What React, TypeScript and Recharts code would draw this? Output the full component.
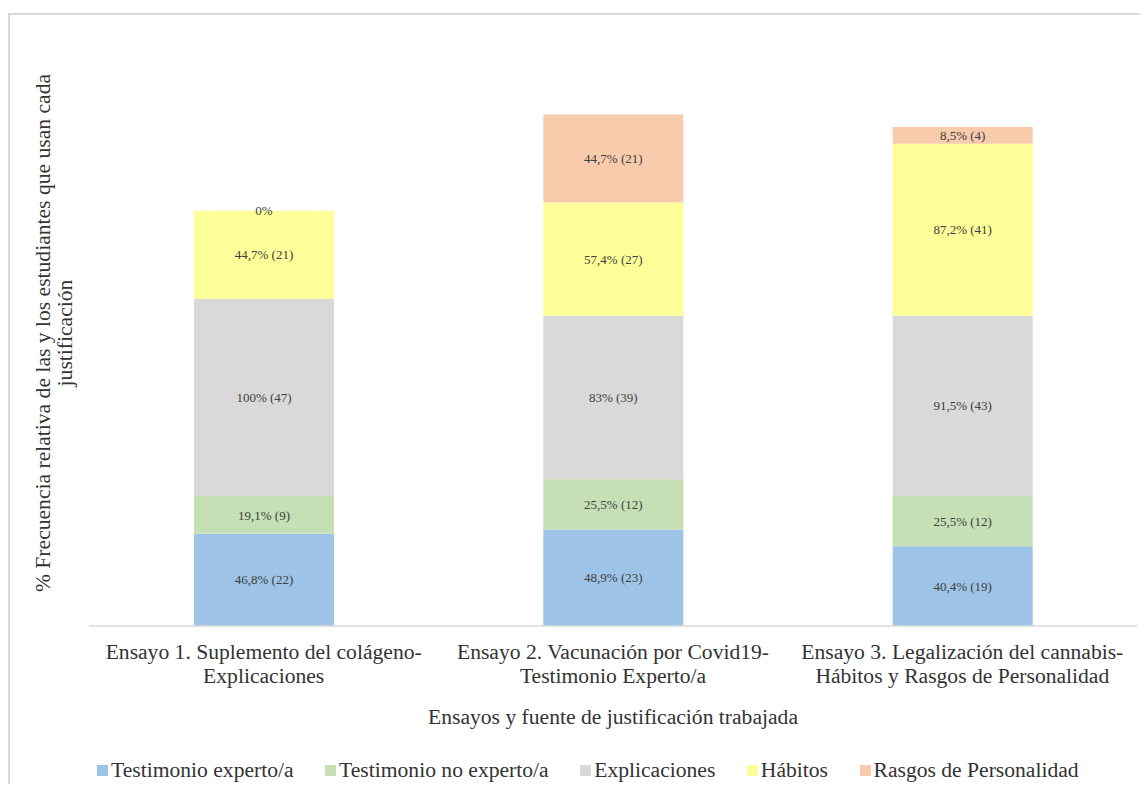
import React from "react";
import { BarChart, Bar, XAxis, YAxis, LabelList, Label } from "recharts";

// Essay categories (two lines each under the axis)
const categoryLine1 = [
  "Ensayo 1. Suplemento del colágeno-",
  "Ensayo 2. Vacunación por Covid19-",
  "Ensayo 3. Legalización del cannabis-",
];
const categoryLine2 = [
  "Explicaciones",
  "Testimonio Experto/a",
  "Hábitos y Rasgos de Personalidad",
];

// Series names and colours (bottom to top in the stack)
const seriesNames = [
  "Testimonio experto/a",
  "Testimonio no experto/a",
  "Explicaciones",
  "Hábitos",
  "Rasgos de Personalidad",
];
const seriesColors = ["#9DC3E6", "#C5E0B4", "#D9D9D9", "#FFFF99", "#F8CBAD"];

// Percentage of students per justification, per essay
const testimonioExperto = [46.8, 48.9, 40.4];
const testimonioNoExperto = [19.1, 25.5, 25.5];
const explicaciones = [100, 83, 91.5];
const habitos = [44.7, 57.4, 87.2];
const rasgos = [0, 44.7, 8.5];

// Number of students behind each percentage
const nTestimonioExperto = [22, 23, 19];
const nTestimonioNoExperto = [9, 12, 12];
const nExplicaciones = [47, 39, 43];
const nHabitos = [21, 27, 41];
const nRasgos = [0, 21, 4];

const seriesValues = [testimonioExperto, testimonioNoExperto, explicaciones, habitos, rasgos];
const seriesCounts = [nTestimonioExperto, nTestimonioNoExperto, nExplicaciones, nHabitos, nRasgos];

const FONT = "Times New Roman, Liberation Serif, DejaVu Serif, serif";
const TEXT = "#333333";
const GRID = "#D9D9D9";

const fmt = (v: number, n: number) =>
  v === 0 ? "0%" : `${String(v).replace(".", ",")}% (${n})`;

const data = categoryLine1.map((l1, i) => {
  const row: Record<string, string | number> = { name: `${l1}\n${categoryLine2[i]}` };
  seriesValues.forEach((vals, s) => {
    row[`s${s}`] = vals[i];
    row[`l${s}`] = fmt(vals[i], seriesCounts[s][i]);
  });
  return row;
});

const TOP = seriesNames.length - 1;

// Segment label centred in its rect; the segment under the top one also
// prints the top segment's label when that segment has zero height.
const makeSegmentLabel = (s: number) => (props: any) => {
  const { viewBox, value, index } = props;
  if (!viewBox) return null;
  const { x, y, width, height } = viewBox;
  const cx = x + width / 2;
  const common = {
    textAnchor: "middle" as const,
    fill: "#404040",
    fontSize: 13,
    fontFamily: FONT,
  };
  const extra =
    s === TOP - 1 && seriesValues[TOP][index] === 0 ? (
      <text x={cx} y={y + 4.6} {...common}>
        {fmt(0, seriesCounts[TOP][index])}
      </text>
    ) : null;
  return (
    <g key={`lab-${s}-${index}`}>
      {height > 0 && (
        <text x={cx} y={y + height / 2 + 4.6} {...common}>
          {value}
        </text>
      )}
      {extra}
    </g>
  );
};

const CategoryTick = (props: any) => {
  const { x, y, payload } = props;
  const lines = String(payload.value).split("\n");
  return (
    <g>
      {lines.map((line: string, i: number) => (
        <text
          key={i}
          x={x}
          y={y + 33.3 + i * 24}
          textAnchor="middle"
          fill={TEXT}
          fontSize={21.6}
          fontFamily={FONT}
        >
          {line}
        </text>
      ))}
    </g>
  );
};

const XTitle = (props: any) => {
  const vb = props.viewBox || { x: 81, y: 618, width: 1048 };
  return (
    <text
      x={vb.x + vb.width / 2}
      y={vb.y + 98}
      textAnchor="middle"
      fill={TEXT}
      fontSize={21.6}
      fontFamily={FONT}
    >
      Ensayos y fuente de justificación trabajada
    </text>
  );
};

const YTitle = () => {
  const cy = 325;
  return (
    <g fill={TEXT} fontSize={21.6} fontFamily={FONT}>
      <text x={42} y={cy} textAnchor="middle" transform={`rotate(-90 42 ${cy})`}>
        % Frecuencia relativa de las y los  estudiantes que usan cada
      </text>
      <text x={64} y={cy} textAnchor="middle" transform={`rotate(-90 64 ${cy})`}>
        justificación
      </text>
    </g>
  );
};

export default function App() {
  return (
    <div
      style={{
        position: "relative",
        width: 1140,
        height: 784,
        marginBottom: -8,
        overflow: "hidden",
        background: "#fff",
        fontFamily: FONT,
      }}
    >
      <div
        style={{
          position: "absolute",
          left: 0,
          top: 5,
          width: 1200,
          height: 900,
          border: `2px solid ${GRID}`,
          boxSizing: "border-box",
        }}
      />
      <div style={{ position: "absolute", left: 0, top: 0 }}>
        <BarChart
          width={1140}
          height={784}
          data={data}
          margin={{ top: 66, right: 11, bottom: 0, left: 0 }}
          barSize={140}
        >
          <XAxis
            dataKey="name"
            height={166}
            tickLine={false}
            tickSize={0}
            tickMargin={0}
            axisLine={{ stroke: GRID, strokeWidth: 1.5 }}
            tick={<CategoryTick />}
            interval={0}
          >
            <Label content={<XTitle />} />
          </XAxis>
          <YAxis
            width={81}
            domain={[0, 280]}
            type="number"
            axisLine={false}
            tickLine={false}
            tick={false}
            allowDataOverflow
          >
            <Label content={<YTitle />} />
          </YAxis>
          {seriesNames.map((name, s) => (
            <Bar
              key={name}
              dataKey={`s${s}`}
              name={name}
              stackId="a"
              fill={seriesColors[s]}
              isAnimationActive={false}
            >
              <LabelList dataKey={`l${s}`} content={makeSegmentLabel(s)} />
            </Bar>
          ))}
        </BarChart>
      </div>
      <div
        style={{
          position: "absolute",
          left: 89,
          top: 750,
          display: "flex",
          alignItems: "center",
          lineHeight: "24px",
          fontSize: 21.6,
          color: TEXT,
          whiteSpace: "nowrap",
        }}
      >
        {seriesNames.map((name, s) => (
          <div
            key={name}
            style={{ display: "flex", alignItems: "center", marginRight: 31.5 }}
          >
            <span
              style={{
                display: "inline-block",
                width: 11,
                height: 11,
                background: seriesColors[s],
                marginRight: 3,
              }}
            />
            <span>{name}</span>
          </div>
        ))}
      </div>
    </div>
  );
}
